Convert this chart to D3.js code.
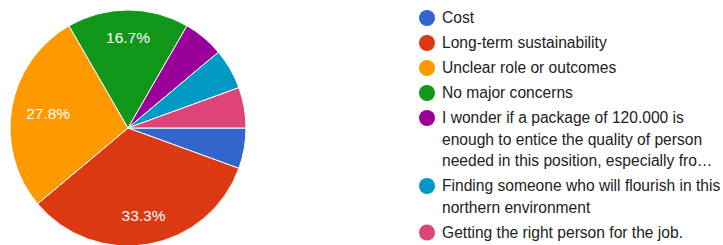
<!DOCTYPE html>
<html>
<head>
<meta charset="utf-8">
<script src="https://cdn.jsdelivr.net/npm/d3@7"></script>
<style>
  body { margin: 0; background: #fff; }
  svg { display: block; font-family: Arial, "Liberation Sans", sans-serif; }
</style>
</head>
<body>
<svg id="pie"></svg>
<script>
// responses per answer (18 in total)
const categories = [
  "Cost",
  "Long-term sustainability",
  "Unclear role or outcomes",
  "No major concerns",
  "I wonder if a package of 120.000 is\nenough to entice the quality of person\nneeded in this position, especially fro\u2026",
  "Finding someone who will flourish in this\nnorthern environment",
  "Getting the right person for the job."
];
const counts = [1, 6, 5, 3, 1, 1, 1];
const colors = ["#3366cc", "#dc3912", "#ff9900", "#109618", "#990099", "#0099c6", "#dd4477"];

function drawPie(width, height) {
  const svg = d3.select('#pie')
    .attr('width', width)
    .attr('height', height);

  const cx = 128, cy = 128, radius = 118;
  const total = d3.sum(counts);
  const data = counts.map((c, i) => ({name: categories[i], value: c, color: colors[i]}));

  const pie = d3.pie()
    .sort(null)
    .value(d => d.value)
    .startAngle(Math.PI / 2)
    .endAngle(Math.PI / 2 + 2 * Math.PI);

  const arc = d3.arc().innerRadius(0).outerRadius(radius);

  const chart = svg.append('g')
    .attr('transform', `translate(${cx}, ${cy})`);

  const slices = pie(data);

  chart.selectAll('path')
    .data(slices)
    .enter()
    .append('path')
    .attr('d', arc)
    .attr('fill', d => d.data.color)
    .attr('stroke', '#fff')
    .attr('stroke-width', 1);

  // percentage labels only on the bigger slices
  const labelR = radius * 0.77;
  chart.selectAll('text.pct')
    .data(slices.filter(d => d.data.value / total > 0.1))
    .enter()
    .append('text')
    .attr('class', 'pct')
    .attr('text-anchor', 'middle')
    .attr('dy', '0.35em')
    .attr('fill', '#fff')
    .style('font-size', '15.5px')
    .text(d => `${(100 * d.data.value / total).toFixed(1)}%`)
    .each(function (d) {
      const a = (d.startAngle + d.endAngle) / 2;
      const half = this.getComputedTextLength() / 2;
      const r = labelR - 0.45 * half * Math.abs(Math.sin(a));
      d3.select(this)
        .attr('x', r * Math.sin(a))
        .attr('y', -r * Math.cos(a));
    });

  // legend
  const legend = svg.append('g')
    .attr('transform', 'translate(427, 0)');

  const lineH = 21.5;
  let y = 18;
  data.forEach(d => {
    const lines = d.name.split('\n');
    legend.append('circle')
      .attr('cx', 0)
      .attr('cy', y)
      .attr('r', 8)
      .attr('fill', d.color);
    const t = legend.append('text')
      .attr('x', 15)
      .attr('y', y)
      .attr('fill', '#222')
      .style('font-size', '15.6px');
    lines.forEach((l, i) => {
      t.append('tspan')
        .attr('x', 15)
        .attr('y', y + i * lineH)
        .attr('dy', '0.35em')
        .text(l);
    });
    y += (lines.length - 1) * lineH + 25;
  });
}

drawPie(723, 245);
</script>
</body>
</html>
